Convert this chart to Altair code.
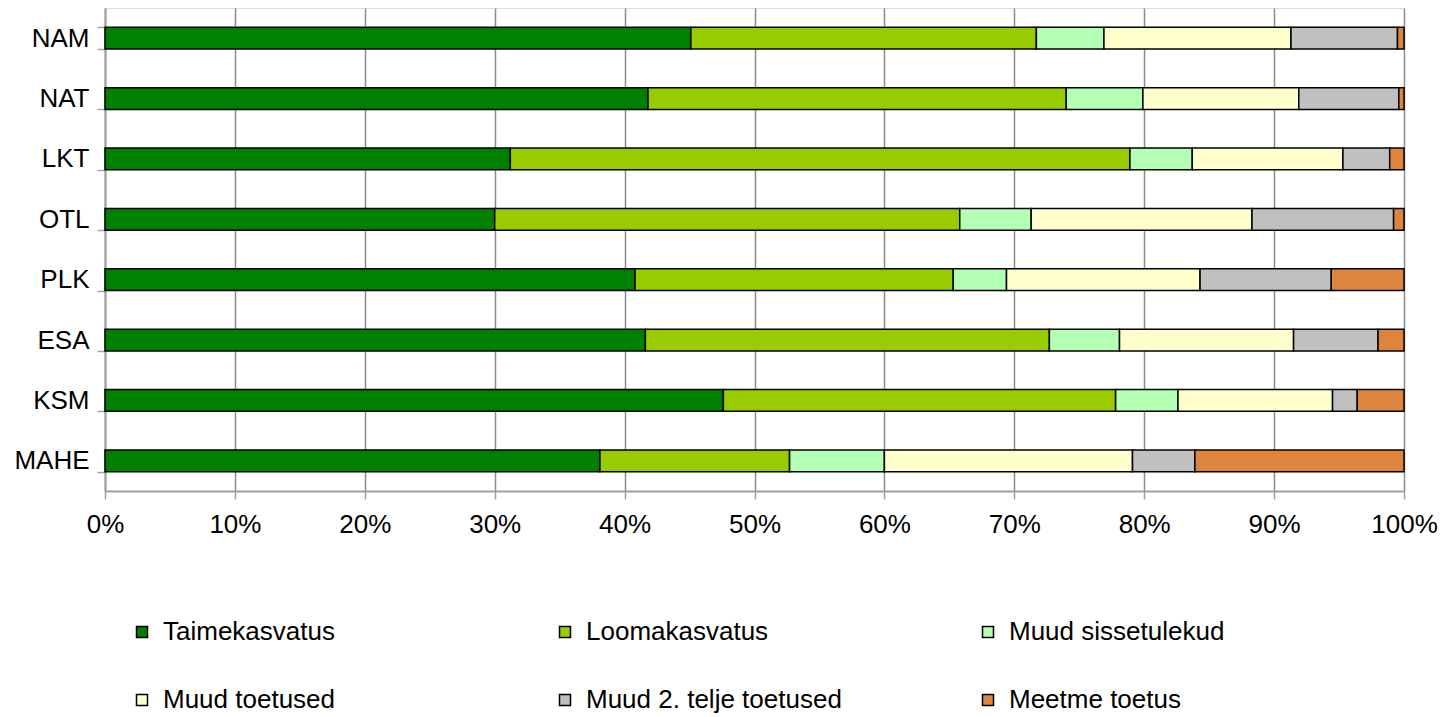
import altair as alt
import pandas as pd

categories = ["NAM", "NAT", "LKT", "OTL", "PLK", "ESA", "KSM", "MAHE"]
series = ["Taimekasvatus", "Loomakasvatus", "Muud sissetulekud",
          "Muud toetused", "Muud 2. telje toetused", "Meetme toetus"]
colors = ["#008000", "#99CC00", "#B3FFB3", "#FFFFCC", "#C0C0C0", "#DD843F"]

taimekasvatus = [45.1, 41.8, 31.2, 30.0, 40.8, 41.6, 47.6, 38.1]
loomakasvatus = [26.6, 32.2, 47.7, 35.8, 24.5, 31.1, 30.2, 14.6]
muud_sissetulekud = [5.2, 5.9, 4.8, 5.5, 4.1, 5.4, 4.8, 7.3]
muud_toetused = [14.4, 12.0, 11.6, 17.0, 14.9, 13.4, 11.9, 19.1]
muud_2_telje = [8.2, 7.7, 3.6, 10.9, 10.1, 6.5, 1.9, 4.8]
meetme_toetus = [0.5, 0.4, 1.1, 0.8, 5.6, 2.0, 3.6, 16.1]

values = [taimekasvatus, loomakasvatus, muud_sissetulekud,
          muud_toetused, muud_2_telje, meetme_toetus]

rows = []
for si, (s, vals) in enumerate(zip(series, values)):
    for c, v in zip(categories, vals):
        rows.append({"kategooria": c, "seeria": s, "vaartus": v, "jrk": si})
df = pd.DataFrame(rows)

# legend is laid out column by column, so order the domain to read row-wise
legend_order = [series[0], series[3], series[1], series[4], series[2], series[5]]
legend_colors = [colors[series.index(s)] for s in legend_order]

FONT = "Liberation Sans"
FS = 26

chart = alt.Chart(df).mark_bar(stroke="black", strokeWidth=1.5).encode(
    x=alt.X("vaartus:Q", stack="normalize",
            scale=alt.Scale(domain=[0, 1], nice=False),
            axis=alt.Axis(format=".0%", values=[i / 10 for i in range(11)],
                          title=None, grid=True, gridColor="#8c8c8c",
                          gridWidth=1.5, domainColor="#a0a0a0", domainWidth=2,
                          tickColor="#a0a0a0", tickWidth=1.5, tickSize=8,
                          labelFontSize=FS, labelFont=FONT, labelColor="black",
                          labelPadding=12, labelFlush=False)),
    y=alt.Y("kategooria:N", sort=categories,
            scale=alt.Scale(paddingInner=0.64, paddingOuter=0.32),
            axis=alt.Axis(title=None, tickBand="extent", domainColor="#a0a0a0",
                          domainWidth=2, tickColor="#a0a0a0", tickWidth=1.5,
                          tickSize=8, labelFontSize=FS, labelFont=FONT,
                          labelColor="black", labelPadding=8, grid=False)),
    color=alt.Color("seeria:N",
                    scale=alt.Scale(domain=legend_order, range=legend_colors),
                    legend=alt.Legend(title=None, orient="none", legendX=24,
                                      legendY=611, columns=3, gridAlign="all",
                                      symbolType="square", symbolSize=121,
                                      symbolStrokeColor="black",
                                      symbolStrokeWidth=1.5, labelFontSize=FS,
                                      labelFont=FONT, labelColor="black",
                                      labelOffset=8, labelLimit=500,
                                      columnPadding=133, rowPadding=42,
                                      padding=0)),
    order=alt.Order("jrk:Q", sort="ascending"),
).properties(
    width=1299,
    height=483,
    autosize=alt.AutoSizeParams(type="none"),
    padding={"left": 97, "top": 0, "right": 41, "bottom": 230},
).configure_view(
    stroke="#a0a0a0", strokeWidth=2
).configure(background="white")

chart.save("out.html", embed_options={"renderer": "svg", "actions": False})
